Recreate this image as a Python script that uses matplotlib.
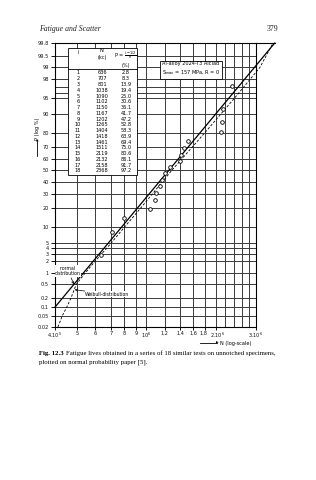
import numpy as np
import matplotlib.pyplot as plt
from matplotlib.patches import Rectangle
from matplotlib.ticker import NullLocator
from matplotlib.transforms import ScaledTranslation
from statistics import NormalDist

# test data: specimen number, fatigue life (kc), probability (%)
spec_no = list(range(1, 19))
life_kc = [636, 707, 801, 1038, 1090, 1102, 1150, 1167, 1202, 1265,
           1404, 1418, 1461, 1511, 2119, 2132, 2158, 2368]
prob_pct = [2.8, 8.3, 13.9, 19.4, 25.0, 30.6, 36.1, 41.7, 47.2, 52.8,
            58.3, 63.9, 69.4, 75.0, 80.6, 86.1, 91.7, 97.2]

# fitted lines
normal_kc = [400, 3620]
normal_p = [0.1, 99.8]
weibull_kc = [412, 430, 450, 470, 495, 540, 598, 702, 803, 948, 1290, 1790, 2430, 3120, 3560]
weibull_p = [0.02, 0.05, 0.1, 0.2, 0.5, 1, 2, 5, 10, 20, 50, 80, 95, 99, 99.8]

p_ticks = [0.02, 0.05, 0.1, 0.2, 0.5, 1, 2, 3, 4, 5, 10, 20, 30, 40, 50,
           60, 70, 80, 90, 95, 98, 99, 99.5, 99.8]
p_labels = ["0.02", "0.05", "0,1", "0.2", "0.5", "1", "2", "3", "4", "5", "10", "20",
            "30", "40", "50", "60", "70", "80", "90", "95", "98", "99", "99.5", "99.8"]
p_extra = [96, 97]
n_ticks = [4e5, 5e5, 6e5, 7e5, 8e5, 9e5, 1e6, 1.2e6, 1.4e6, 1.6e6, 1.8e6, 2e6, 3e6]
n_labels = ["4.10$^5$", "5", "6", "7", "8", "9", "10$^6$", "1,2", "1,4", "1,6",
            "1,8", "2.10$^6$", "3.10$^6$"]
n_extra = [2.2e6, 2.4e6, 2.6e6, 2.8e6]

nd = NormalDist()


def probit(p):
    p = np.clip(np.asarray(p, dtype=float), 1e-7, 100 - 1e-7)
    return np.vectorize(lambda v: nd.inv_cdf(v / 100), otypes=[float])(p)


def unprobit(z):
    z = np.asarray(z, dtype=float)
    return np.vectorize(lambda v: 100 * nd.cdf(v), otypes=[float])(z)


W, H = 316, 480
fig = plt.figure(figsize=(W / 100, H / 100), dpi=100)
fig.patch.set_facecolor("white")


def fx(px):
    return px / W


def fy(py):
    return 1 - py / H


ax = fig.add_axes([fx(55), fy(327), (256 - 55) / W, (327 - 43) / H])
ax.set_xscale("log")
ax.set_yscale("function", functions=(probit, unprobit))
ax.set_xlim(4e5, 3e6)
ax.set_ylim(0.02, 99.8)

gcol = "#3a3a3a"
for n in n_ticks + n_extra:
    ax.axvline(n, color=gcol, lw=0.7, zorder=1)
for p in p_ticks + p_extra:
    ax.axhline(p, color=gcol, lw=0.7, zorder=1)

ax.set_xticks(n_ticks)
ax.set_xticklabels(n_labels)
ax.xaxis.set_minor_locator(NullLocator())
ax.set_yticks(p_ticks)
ax.set_yticklabels(p_labels)
ax.yaxis.set_minor_locator(NullLocator())
ax.tick_params(axis="both", labelsize=3.6, length=3, width=0.7, pad=1.5, colors="#111111")
ax.tick_params(axis="x", length=2, pad=1)
# nudge the crowded labels near 2.10^6 apart a little
xl = ax.get_xticklabels()
xl[10].set_transform(xl[10].get_transform() + ScaledTranslation(-2 / 100, 0, fig.dpi_scale_trans))
xl[11].set_transform(xl[11].get_transform() + ScaledTranslation(2 / 100, 0, fig.dpi_scale_trans))
for s in ax.spines.values():
    s.set_linewidth(0.8)

# fit lines
n_cyc = np.array(normal_kc) * 1000
ax.plot(n_cyc, normal_p, color="black", lw=0.9, zorder=3, clip_on=False)
ax.plot(np.array(weibull_kc) * 1000, weibull_p, color="black", lw=0.6,
        ls=(0, (3, 2)), zorder=3, clip_on=False)
# the top border of the paper runs out to meet the fit line
ax.plot([3e6, n_cyc[-1]], [99.8, 99.8], color="black", lw=0.8, clip_on=False)

# test results
ax.plot(np.array(life_kc) * 1000, prob_pct, "o", ms=2.6, mfc="white",
        mec="black", mew=0.6, zorder=4)

# annotations
ax.annotate("normal\ndistribution", xy=(484e3, 0.5), xycoords="data",
            xytext=(fx(68), fy(271)), textcoords="figure fraction",
            ha="center", va="center", fontsize=3.3, linespacing=1.1,
            bbox=dict(boxstyle="square,pad=0.1", fc="white", ec="none"),
            arrowprops=dict(arrowstyle="->", lw=0.5, shrinkA=1, shrinkB=0,
                            mutation_scale=4))
ax.annotate("Weibull-distribution", xy=(487e3, 0.35), xycoords="data",
            xytext=(fx(85), fy(294)), textcoords="figure fraction",
            ha="left", va="center", fontsize=3.3,
            bbox=dict(boxstyle="square,pad=0.1", fc="white", ec="none"),
            arrowprops=dict(arrowstyle="->", lw=0.5, shrinkA=0, shrinkB=0,
                            mutation_scale=4))

fig.text(fx(191), fy(69), "Al-alloy 2024-T3 Alclad\nS$_{max}$ = 157 MPa, R = 0",
         ha="center", va="center", fontsize=3.6, linespacing=1.3, zorder=5,
         bbox=dict(boxstyle="square,pad=0.45", fc="white", ec="black", lw=0.6))

# table of results
fig.add_artist(Rectangle((fx(68), fy(175)), (137 - 68) / W, (175 - 48) / H,
                         transform=fig.transFigure, fc="white", ec="black",
                         lw=0.6, zorder=4))
fig.add_artist(plt.Line2D([fx(68), fx(137)], [fy(69), fy(69)],
                          transform=fig.transFigure, color="black", lw=0.6, zorder=5))
tk = dict(fontsize=3.6, ha="center", va="center", zorder=6)
fig.text(fx(78), fy(52), "i", **tk)
fig.text(fx(102), fy(51), "N$_i$", **tk)
fig.text(fx(102), fy(58), "(kc)", **tk)
fig.text(fx(126), fy(55), r"P = $\frac{i-1/2}{n}$", **tk)
fig.text(fx(126), fy(65.5), "(%)", **tk)
row_y = np.linspace(73, 171, len(spec_no))
for k in range(len(spec_no)):
    fig.text(fx(78), fy(row_y[k]), str(spec_no[k]), **tk)
    fig.text(fx(102), fy(row_y[k]), str(life_kc[k]), **tk)
    fig.text(fx(126), fy(row_y[k]), "%.1f" % prob_pct[k], **tk)

# axis titles with arrows
fig.text(fx(37), fy(129), "P (log %)", rotation=90, ha="center", va="center", fontsize=3.6)
fig.add_artist(plt.Line2D([fx(37), fx(37)], [fy(156), fy(141)], transform=fig.transFigure,
                          color="black", lw=0.6))
fig.text(fx(37), fy(141), "\u25b2", ha="center", va="center", fontsize=2.5)
fig.add_artist(plt.Line2D([fx(200), fx(217)], [fy(343), fy(343)], transform=fig.transFigure,
                          color="black", lw=0.6))
fig.text(fx(217), fy(343), "\u25b6", ha="center", va="center", fontsize=2.5)
fig.text(fx(220), fy(343), "N (log-scale)", ha="left", va="center", fontsize=3.6)

# page header and caption
fig.text(fx(39), fy(29), "Fatigue and Scatter", family="Liberation Serif",
         style="italic", fontsize=5.6, ha="left", va="center", color="#222222")
fig.text(fx(278), fy(29), "379", family="Liberation Serif", fontsize=5.6,
         ha="right", va="center", color="#222222")
cap = fig.text(fx(39), fy(353), "Fig. 12.3", family="Liberation Serif", weight="bold",
               fontsize=4.9, ha="left", va="center")
r = fig.canvas.get_renderer()
bb = cap.get_window_extent(r)
fig.text((bb.x1 + 2.5) / W, fy(353),
         "Fatigue lives obtained in a series of 18 similar tests on unnotched specimens,",
         family="Liberation Serif", fontsize=4.9, ha="left", va="center")
fig.text(fx(39), fy(362), "plotted on normal probability paper [5].",
         family="Liberation Serif", fontsize=4.9, ha="left", va="center")

fig.savefig("out.png", dpi=100)
